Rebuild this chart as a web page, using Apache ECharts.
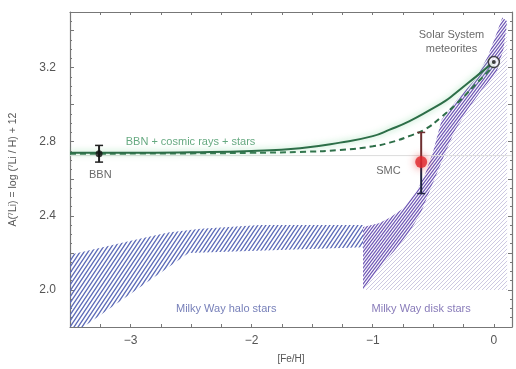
<!DOCTYPE html>
<html>
<head>
<meta charset="utf-8">
<script src="https://cdn.jsdelivr.net/npm/echarts@6/dist/echarts.min.js"></script>
<style>
  html, body {margin: 0; padding: 0; background: #fff;}
  #chart {width: 516px; height: 369px;}
</style>
</head>
<body>
<div id="chart"></div>
<script>
// x = [Fe/H], y = A(7Li)
const xTickLabels = ['−3', '−2', '−1', '0'];
const yTickLabels = ['2.0', '2.4', '2.8', '3.2'];

const haloUpper = [[-3.5, 2.19], [-3.23, 2.23], [-2.97, 2.27], [-2.69, 2.31], [-2.42, 2.33], [-1.93, 2.35], [-1.08, 2.35]];
const haloLower = [[-3.5, 1.8], [-3.39, 1.8], [-2.52, 2.2], [-1.08, 2.23]];

const diskUpper = [[-1.08, 2.0], [-1.08, 2.34], [-0.95, 2.36], [-0.86, 2.39], [-0.75, 2.44], [-0.64, 2.53], [-0.57, 2.62],
  [-0.5, 2.75], [-0.43, 2.92], [-0.3, 3.03], [-0.15, 3.14], [-0.05, 3.26], [0.02, 3.38], [0.07, 3.47]];
const diskLower = [[-1.08, 2.0], [-0.92, 2.14], [-0.81, 2.22], [-0.7, 2.31], [-0.6, 2.42], [-0.52, 2.55], [-0.42, 2.71],
  [-0.33, 2.85], [-0.22, 2.97], [-0.1, 3.08], [0.02, 3.17], [0.08, 3.3], [0.11, 3.45]];
const diskOuter = [[0.11, 2.0]];

const bbnStars = [[-3.5, 2.74], [-3.0, 2.74], [-2.5, 2.743], [-2.0, 2.75], [-1.6, 2.765], [-1.27, 2.795], [-1.0, 2.83],
  [-0.86, 2.865], [-0.7, 2.91], [-0.53, 2.97], [-0.4, 3.02], [-0.32, 3.06], [-0.15, 3.15], [0.0, 3.23]];
const bbnStarsAlt = [[-3.5, 2.735], [-2.5, 2.737], [-2.0, 2.74], [-1.6, 2.745], [-1.27, 2.755], [-1.0, 2.775], [-0.86, 2.795],
  [-0.7, 2.83], [-0.56, 2.87], [-0.44, 2.93], [-0.3, 3.01], [-0.15, 3.11], [0.0, 3.21]];
const bbnLevel = [[-3.5, 2.725], [0.15, 2.725]];

// [x, y, low, high]
const bbnPoint = [[-3.26, 2.735, 2.69, 2.78]];
const smcPoint = [[-0.6, 2.69, 2.52, 2.85]];
const solarPoint = [[0.0, 3.23]];

const notes = [
  {name: 'BBN + cosmic rays + stars', value: [-3.04, 2.80], color: '#3f9460', align: 'left'},
  {name: 'BBN', value: [-3.25, 2.62], color: '#444', align: 'center'},
  {name: 'SMC', value: [-0.87, 2.64], color: '#444', align: 'center'},
  {name: 'Solar System\nmeteorites', value: [-0.35, 3.34], color: '#444', align: 'center'},
  {name: 'Milky Way halo stars', value: [-2.21, 1.9], color: '#5560a8', align: 'center'},
  {name: 'Milky Way disk stars', value: [-0.6, 1.9], color: '#6a5aa8', align: 'center'}
];

function hatch(color, w, h, lw) {
  const c = document.createElement('canvas');
  c.width = w; c.height = h;
  const g = c.getContext('2d');
  g.strokeStyle = color;
  g.lineWidth = lw;
  g.beginPath();
  g.moveTo(-w, 2 * h); g.lineTo(2 * w, -h);
  g.moveTo(-w, h); g.lineTo(w, -h);
  g.moveTo(0, 2 * h); g.lineTo(2 * w, 0);
  g.stroke();
  return {image: c, repeat: 'repeat'};
}

function region(pts, fill, z) {
  return {
    type: 'custom', silent: true, z,
    data: [pts[0]],
    renderItem: (p, api) => ({
      type: 'polygon',
      shape: {points: pts.map(q => api.coord(q))},
      style: {fill}
    })
  };
}

function errBar(data, upColor, lowColor, z) {
  return {
    type: 'custom', silent: true, z,
    data,
    renderItem: (p, api) => {
      const c = api.coord([api.value(0), api.value(1)]);
      const lo = api.coord([api.value(0), api.value(2)]);
      const hi = api.coord([api.value(0), api.value(3)]);
      const cap = 4;
      return {
        type: 'group',
        children: [
          {type: 'line', shape: {x1: c[0], y1: c[1], x2: hi[0], y2: hi[1]}, style: {stroke: upColor, lineWidth: 2}},
          {type: 'line', shape: {x1: hi[0] - cap, y1: hi[1], x2: hi[0] + cap, y2: hi[1]}, style: {stroke: upColor, lineWidth: 1.5}},
          {type: 'line', shape: {x1: c[0], y1: c[1], x2: lo[0], y2: lo[1]}, style: {stroke: lowColor, lineWidth: 2}},
          {type: 'line', shape: {x1: lo[0] - cap, y1: lo[1], x2: lo[0] + cap, y2: lo[1]}, style: {stroke: lowColor, lineWidth: 1.5}}
        ]
      };
    }
  };
}

const axisColor = '#777';
const labelStyle = {color: '#555', fontSize: 11, fontFamily: 'Liberation Sans'};

const xBase = {
  type: 'value', min: -3.5, max: 0.15, interval: 0.25,
  axisLine: {show: true, onZero: false, lineStyle: {color: axisColor, width: 1.2}},
  axisTick: {inside: true, length: 3, lineStyle: {color: axisColor}},
  splitLine: {show: false}
};
const yBase = {
  type: 'value', min: 1.8, max: 3.5, interval: 0.2,
  axisLine: {show: true, onZero: false, lineStyle: {color: axisColor, width: 1.2}},
  axisTick: {inside: true, length: 4, lineStyle: {color: axisColor}},
  minorTick: {show: true, splitNumber: 4, length: 2, lineStyle: {color: axisColor}},
  splitLine: {show: false}
};

const myChart = echarts.init(document.getElementById('chart'));
myChart.setOption({
  animation: false,
  grid: {left: 67, right: 4, top: 12, bottom: 40},
  xAxis: [
    {
      ...xBase, position: 'bottom',
      name: '[Fe/H]', nameLocation: 'middle', nameGap: 27,
      nameTextStyle: {...labelStyle, fontSize: 10},
      axisLabel: {
        ...labelStyle, fontSize: 12, margin: 8,
        formatter: v => {
          const i = [-3, -2, -1, 0].findIndex(t => Math.abs(t - v) < 1e-6);
          return i >= 0 ? xTickLabels[i] : '';
        }
      }
    },
    {...xBase, position: 'top', axisLabel: {show: false}}
  ],
  yAxis: [
    {
      ...yBase, position: 'left',
      name: 'A(⁷Li) = log (⁷Li / H) + 12', nameLocation: 'middle', nameGap: 51,
      nameTextStyle: {...labelStyle, fontSize: 10.5},
      axisLabel: {
        ...labelStyle, fontSize: 12, margin: 14,
        formatter: v => {
          const i = [2.0, 2.4, 2.8, 3.2].findIndex(t => Math.abs(t - v) < 1e-6);
          return i >= 0 ? yTickLabels[i] : '';
        }
      }
    },
    {...yBase, position: 'right', axisLabel: {show: false}}
  ],
  series: [
    region(diskLower.concat(diskOuter), hatch('#cdc9e2', 4, 4, 1), 1),
    region(haloUpper.concat(haloLower.slice().reverse()), hatch('#5d6bb8', 4, 6, 1.3), 2),
    region(diskUpper.concat(diskLower.slice().reverse()), hatch('#7058b6', 3, 4, 1.3), 3),
    {
      type: 'line', data: bbnLevel, symbol: 'none', silent: true, z: 4,
      lineStyle: {color: '#dcdcdc', width: 1}
    },
    {
      type: 'line', data: bbnStars, smooth: true, symbol: 'none', silent: true, z: 6,
      lineStyle: {color: '#2d6e48', width: 2, shadowColor: 'rgba(120,210,150,0.8)', shadowBlur: 6}
    },
    {
      type: 'line', data: bbnStarsAlt, smooth: true, symbol: 'none', silent: true, z: 5,
      lineStyle: {color: '#2d6e48', width: 2, type: [6, 4]}
    },
    errBar(bbnPoint, '#222', '#222', 7),
    errBar(smcPoint, '#6e2f30', '#1f2440', 7),
    {
      type: 'scatter', data: bbnPoint.map(d => [d[0], d[1]]), symbol: 'circle', symbolSize: 7, z: 8,
      itemStyle: {color: '#111'}
    },
    {
      type: 'scatter', data: smcPoint.map(d => [d[0], d[1]]), symbol: 'circle', symbolSize: 12, z: 8,
      itemStyle: {color: '#e0262a', shadowColor: 'rgba(230,40,40,0.8)', shadowBlur: 8}
    },
    {
      type: 'scatter', data: solarPoint, symbol: 'circle', symbolSize: 11, z: 8,
      itemStyle: {color: '#fff', borderColor: '#222', borderWidth: 1.5}
    },
    {
      type: 'scatter', data: solarPoint, symbol: 'circle', symbolSize: 4, z: 9,
      itemStyle: {color: '#111'}
    },
    {
      type: 'scatter', symbolSize: 0, silent: true, z: 10,
      data: notes.map(n => ({
        name: n.name, value: n.value,
        label: {
          show: true, position: 'inside', formatter: '{b}',
          color: n.color, align: n.align, fontSize: 11, lineHeight: 14,
          fontFamily: 'Liberation Sans'
        }
      }))
    }
  ]
});
</script>
</body>
</html>
